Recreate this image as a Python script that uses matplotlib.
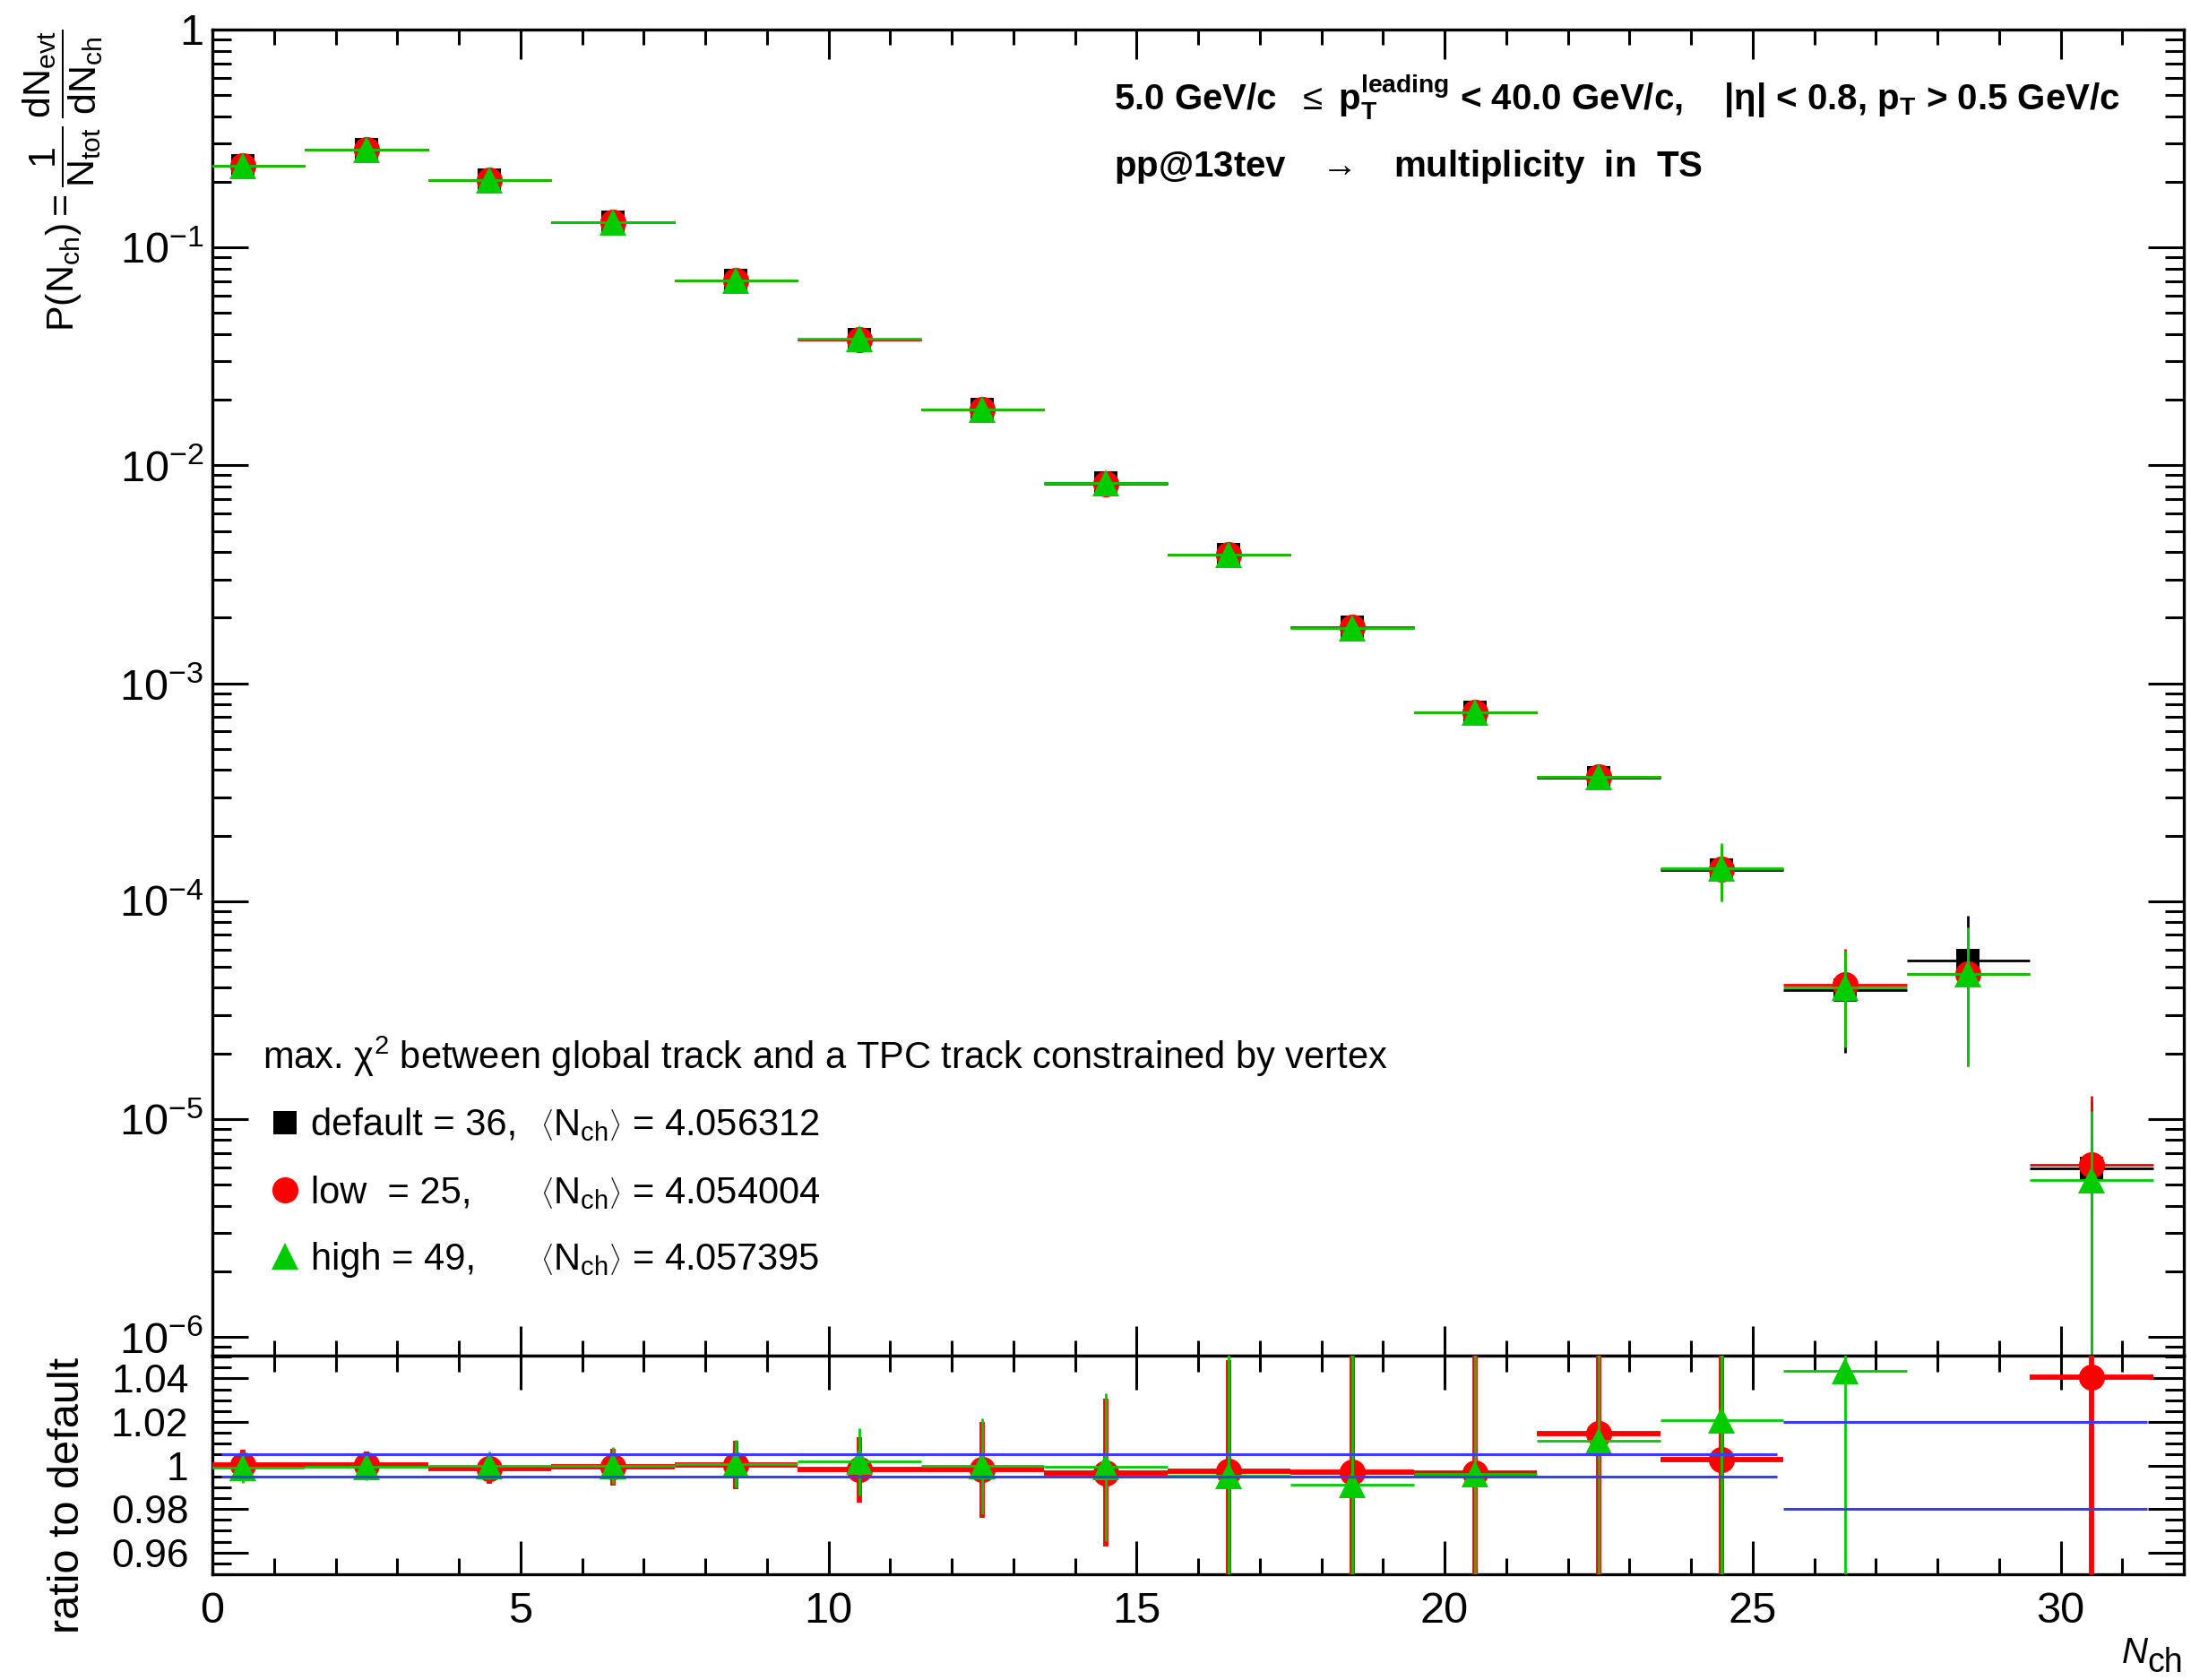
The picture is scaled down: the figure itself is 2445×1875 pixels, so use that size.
import numpy as np
import matplotlib
matplotlib.use('Agg')
import matplotlib.pyplot as plt
from matplotlib.ticker import MultipleLocator, FixedLocator, LogLocator, FuncFormatter, NullFormatter
from matplotlib.lines import Line2D

#Fonts close to the ROOT Helvetica look
plt.rcParams['font.family'] = ['Liberation Sans', 'DejaVu Sans']
plt.rcParams['mathtext.fontset'] = 'custom'
plt.rcParams['mathtext.rm'] = 'Liberation Sans'
plt.rcParams['mathtext.it'] = 'Liberation Sans:italic'
plt.rcParams['mathtext.bf'] = 'Liberation Sans:bold'

#Data
binCenters = [0.5, 2.5, 4.5, 6.5, 8.5, 10.5, 12.5, 14.5, 16.5, 18.5, 20.5, 22.5, 24.5, 26.5, 28.5, 30.5]
binHalfWidth = [1.0] * 16

pDefault = [0.236, 0.282, 0.204, 0.130, 0.0708, 0.0379, 0.0181, 0.00828, 0.0039, 0.00181, 0.000736, 0.000367, 0.000139, 3.91e-5, 5.34e-5, 5.93e-6]
pLow = [0.236, 0.282, 0.204, 0.130, 0.0708, 0.0378, 0.0181, 0.00825, 0.00389, 0.00180, 0.000733, 0.000372, 0.000140, 4.13e-5, 4.65e-5, 6.17e-6]
pHigh = [0.236, 0.282, 0.204, 0.130, 0.0708, 0.0380, 0.0181, 0.00827, 0.00388, 0.00179, 0.000733, 0.000371, 0.000142, 4.03e-5, 4.65e-5, 5.26e-6]

errDefault = [0.0012, 0.0013, 0.0011, 0.0009, 0.0006, 0.0004, 0.00028, 0.0002, 0.00014, 0.00009, 0.00005, 0.000038, 0.000038, 0.000019, 0.0000326, 0.0000062]
errLow = [0.0012, 0.0013, 0.0011, 0.0009, 0.0006, 0.0004, 0.00028, 0.0002, 0.00014, 0.00009, 0.00005, 0.000038, 0.000039, 0.000019, 0.000029, 0.0000066]
errHigh = [0.0012, 0.0013, 0.0011, 0.0009, 0.0006, 0.0004, 0.00028, 0.0002, 0.00014, 0.00009, 0.00005, 0.000038, 0.000042, 0.000019, 0.000029, 0.0000056]

ratioLow = [1.0004, 1.0004, 0.9985, 0.9993, 1.0003, 0.998, 0.998, 0.9966, 0.9974, 0.9969, 0.9966, 1.0146, 1.0028, 1.065, 0.87, 1.0406]
ratioHigh = [0.9992, 0.9993, 1.0, 1.0, 1.0008, 1.0017, 0.9998, 0.9994, 0.9955, 0.991, 0.9962, 1.0114, 1.0207, 1.0437, 0.87, 0.88]
ratioLowErr = [0.007, 0.006, 0.007, 0.0085, 0.011, 0.015, 0.022, 0.034, 0.051, 0.07, 0.1, 0.15, 0.2, 0.3, 0.3, 0.6]
ratioHighErr = [0.007, 0.006, 0.0065, 0.0085, 0.011, 0.0155, 0.022, 0.034, 0.06, 0.07, 0.1, 0.15, 0.2, 0.3, 0.3, 0.6]

#Systematic band lines in the ratio pad
bandLevels = [0.005, 0.02]
bandStart = [0.15, 25.5]
bandEnd = [25.4, 31.4]

legendHeader = r'max. $\mathrm{\chi}^{2}$ between global track and a TPC track constrained by vertex'
legendNames = ['default = 36,', 'low  = 25,', 'high = 49,']
meanNch = ['4.056312', '4.054004', '4.057395']

red = '#ff0000'
green = '#00cc00'
blue = '#3b3bff'

W, H = 2445.0, 1875.0

#Helper to go from reference pixels to figure fraction
def fx(px):
    return px / W

def fy(py):
    return 1.0 - py / H

fig = plt.figure(figsize=(24.45, 18.75), dpi=100)
axMain = fig.add_axes([fx(237), fy(1513), (2437 - 237) / W, (1513 - 33) / H])
axRatio = fig.add_axes([fx(237), fy(1757), (2437 - 237) / W, (1757 - 1513) / H], sharex=axMain)

#Main pad: the three distributions
axMain.errorbar(binCenters, pDefault, xerr=binHalfWidth, yerr=errDefault, fmt='s', color='k', ms=19, mew=0, lw=2, capsize=0, zorder=3)
axMain.errorbar(binCenters, pLow, xerr=binHalfWidth, yerr=errLow, fmt='o', color=red, ms=21, mew=0, lw=2, capsize=0, zorder=4)
axMain.errorbar(binCenters, pHigh, xerr=binHalfWidth, yerr=errHigh, fmt='^', color=green, ms=22, mew=0, lw=2, capsize=0, zorder=5)

axMain.set_yscale('log')
axMain.set_ylim(10 ** -6.086, 1)
axMain.set_xlim(0, 32)

def logLabel(v, pos):
    e = int(round(np.log10(v)))
    if e == 0:
        return '1'
    return r'$\mathregular{10^{%d}}$' % e

axMain.yaxis.set_major_locator(FixedLocator([10.0 ** k for k in range(-6, 1)]))
axMain.yaxis.set_major_formatter(FuncFormatter(logLabel))
axMain.yaxis.set_minor_locator(LogLocator(base=10, subs=np.arange(2, 10), numticks=20))
axMain.yaxis.set_minor_formatter(NullFormatter())

#Ratio pad: points outside the range are not drawn (like ROOT)
ylo, yhi = 0.95, 1.0505
rl = np.array(ratioLow)
rh = np.array(ratioHigh)
xc = np.array(binCenters)
xw = np.array(binHalfWidth)
okL = (rl > ylo) & (rl < yhi)
okH = (rh > ylo) & (rh < yhi)
axRatio.errorbar(xc[okL], rl[okL], xerr=xw[okL], yerr=np.array(ratioLowErr)[okL], fmt='o', color=red, ms=21, mew=0, lw=4.2, capsize=0, zorder=3)
axRatio.errorbar(xc[okH], rh[okH], xerr=xw[okH], yerr=np.array(ratioHighErr)[okH], fmt='^', color=green, ms=22, mew=0, lw=2, capsize=0, zorder=4)
for lev, x0, x1 in zip(bandLevels, bandStart, bandEnd):
    axRatio.hlines([1 + lev, 1 - lev], x0, x1, colors=blue, lw=2.2, zorder=6)

axRatio.set_ylim(ylo, yhi)
axRatio.yaxis.set_major_locator(MultipleLocator(0.02))
axRatio.yaxis.set_minor_locator(MultipleLocator(0.005))
axRatio.yaxis.set_major_formatter(FuncFormatter(lambda v, p: '%g' % round(v, 3)))
axRatio.xaxis.set_major_locator(MultipleLocator(5))
axRatio.xaxis.set_minor_locator(MultipleLocator(1))

#ROOT-like frame and ticks on all sides
for ax in (axMain, axRatio):
    for s in ax.spines.values():
        s.set_linewidth(2.4)
    ax.tick_params(which='both', direction='in', top=True, right=True, width=2.2)
    ax.tick_params(axis='y', which='major', length=29)
    ax.tick_params(axis='y', which='minor', length=15)
axMain.tick_params(axis='x', which='major', length=24, labelbottom=False)
axMain.tick_params(axis='x', which='minor', length=12)
axMain.tick_params(axis='y', labelsize=35, pad=7)
axRatio.tick_params(axis='x', which='major', length=27, labelsize=35, pad=14)
axRatio.tick_params(axis='x', which='minor', length=13)
axRatio.tick_params(axis='y', labelsize=32, pad=19)

#Axis titles
fig.text(fx(83), fy(33), r'$\mathregular{P(N_{ch}) = \dfrac{1}{N_{tot}}\,\dfrac{dN_{evt}}{dN_{ch}}}$',
         rotation=90, rotation_mode='anchor', ha='right', va='baseline', fontsize=31)
fig.text(fx(88), fy(1515), 'ratio to default', rotation=90, rotation_mode='anchor',
         ha='right', va='baseline', fontsize=35)
fig.text(fx(2397), fy(1856), 'N', style='italic', ha='right', va='baseline', fontsize=29)
fig.text(fx(2436), fy(1866), 'ch', ha='right', va='baseline', fontsize=27)

#Selection text
fig.text(fx(1243), fy(123), r'5.0 GeV/c  $\leq$ $\mathbf{p}_{\mathbf{T}}^{\mathbf{leading}}$ < 40.0 GeV/c,    |$\mathbf{\eta}$| < 0.8, $\mathbf{p}_{\mathbf{T}}$ > 0.5 GeV/c',
         fontsize=29, fontweight='bold', va='baseline')
fig.text(fx(1243), fy(197), r'pp@13tev   $\rightarrow$   multiplicity  in  TS', fontsize=29, fontweight='bold', va='baseline')

#Legend built by hand
fig.text(fx(293), fy(1193), legendHeader, fontsize=30, va='baseline')
markers = [('s', 'k', 19), ('o', red, 21), ('^', green, 22)]
rowY = [1253, 1328, 1402]
rowBase = [1267, 1343, 1417]
for i in range(3):
    m, c, s = markers[i]
    fig.add_artist(Line2D([fx(318)], [fy(rowY[i])], marker=m, color=c, ms=s, mew=0, transform=fig.transFigure))
    fig.text(fx(347), fy(rowBase[i]), legendNames[i], fontsize=30, va='baseline')
    fig.text(fx(603), fy(rowBase[i]), r'$\left\langle\mathregular{N_{ch}}\right\rangle$ = ' + meanNch[i], fontsize=30, va='baseline')

fig.savefig('out.png', dpi=100)
